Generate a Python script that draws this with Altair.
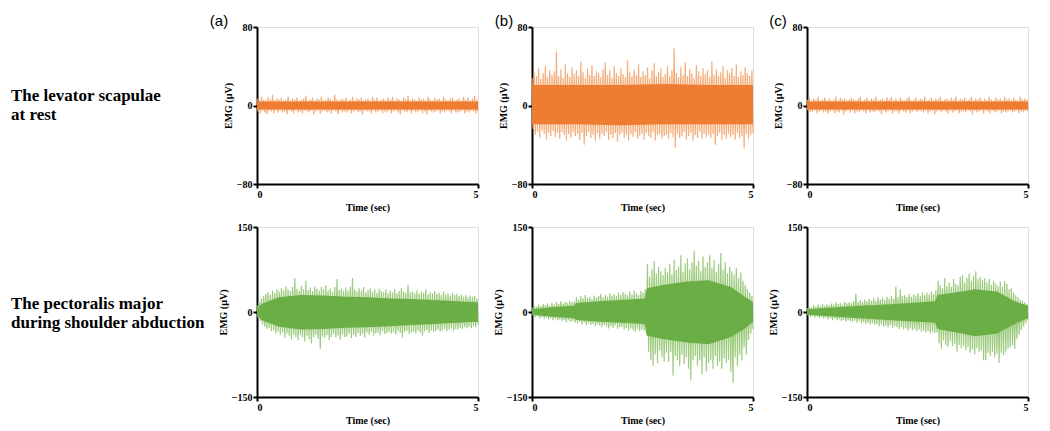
import altair as alt
import pandas as pd

# ---------------- data ----------------
panel_tags = ["(a)", "(b)", "(c)"]
row_labels = ["The levator scapulae\nat rest", "The pectoralis major\nduring shoulder abduction"]
top_ticks = [-80, 0, 80]
bot_ticks = [-150, 0, 150]
time_ticks = [0, 5]

# dense core band: knot times, upper and lower edges
a_top_core_t = [0, 1, 2, 3, 4, 5]
a_top_core_hi = [4, 4, 4, 4, 4, 4]
a_top_core_lo = [-4, -4, -4, -4, -4, -4]
b_top_core_t = [0, 1, 2, 3, 4, 5]
b_top_core_hi = [21, 21, 21, 22, 21, 21]
b_top_core_lo = [-19, -19, -20, -19, -19, -19]
c_top_core_t = [0, 1, 2, 3, 4, 5]
c_top_core_hi = [4, 4, 4, 4, 4, 4]
c_top_core_lo = [-4, -4, -4, -4, -4, -4]

a_bot_core_t = [0, 0.1, 0.5, 1, 1.5, 2, 2.5, 3, 3.5, 4, 4.5, 5]
a_bot_core_hi = [5, 14, 26, 30, 29, 27, 26, 24, 23, 21, 19, 17]
a_bot_core_lo = [-5, -14, -26, -31, -30, -28, -27, -25, -23, -21, -19, -17]
b_bot_core_t = [0, 0.5, 0.95, 1.0, 1.5, 2.0, 2.55, 2.6, 3.0, 3.5, 4.0, 4.5, 4.8, 5.0]
b_bot_core_hi = [5, 9, 11, 16, 19, 21, 24, 42, 48, 54, 56, 44, 28, 17]
b_bot_core_lo = [-5, -9, -11, -14, -17, -19, -21, -42, -48, -54, -57, -44, -30, -17]
c_bot_core_t = [0, 1, 2, 2.9, 2.95, 3.5, 3.8, 4.3, 4.7, 5]
c_bot_core_hi = [5, 10, 14, 19, 30, 36, 40, 36, 19, 11]
c_bot_core_lo = [-5, -10, -15, -19, -30, -38, -43, -38, -21, -11]

# spike peaks (positive / negative), 100 each, evenly over 0-5 s
a_top_up = [7, 5, 9, 6, 5, 8, 6, 11, 5, 7, 6, 8, 5, 6, 9, 5, 7, 6, 8, 5,
            6, 7, 10, 5, 6, 8, 5, 7, 6, 9, 5, 6, 8, 7, 5, 11, 6, 5, 7, 6,
            8, 5, 6, 9, 5, 7, 6, 8, 5, 6, 7, 5, 9, 6, 8, 5, 6, 7, 5, 8,
            6, 9, 5, 7, 6, 5, 8, 6, 10, 5, 7, 6, 5, 8, 6, 7, 5, 9, 6, 5,
            8, 6, 7, 5, 9, 6, 5, 7, 8, 5, 6, 7, 5, 9, 6, 8, 5, 7, 10, 6]
a_top_dn = [-6, -8, -5, -7, -9, -5, -6, -8, -5, -7, -5, -7, -6, -9, -5, -6, -8, -5, -7, -6,
            -8, -5, -6, -7, -5, -9, -6, -5, -8, -6, -5, -7, -6, -8, -5, -6, -9, -5, -7, -6,
            -7, -5, -8, -6, -5, -7, -6, -9, -5, -6, -6, -8, -5, -7, -6, -5, -8, -6, -7, -5,
            -8, -6, -5, -7, -9, -5, -6, -7, -5, -8, -5, -7, -6, -5, -8, -6, -9, -5, -6, -7,
            -6, -5, -8, -6, -7, -5, -6, -8, -5, -7, -7, -6, -5, -8, -6, -7, -5, -6, -8, -6]
b_top_up = [28, 34, 30, 38, 27, 33, 40, 29, 36, 31, 35, 55, 30, 37, 28, 42, 33, 29, 39, 32,
            36, 30, 45, 34, 28, 38, 31, 41, 30, 35, 33, 29, 37, 44, 31, 36, 28, 40, 33, 30,
            38, 32, 29, 46, 34, 30, 37, 31, 42, 29, 35, 31, 39, 28, 36, 43, 30, 34, 38, 29,
            32, 40, 30, 36, 58, 33, 29, 39, 31, 44, 30, 37, 33, 28, 41, 35, 30, 38, 32, 36,
            29, 45, 31, 37, 30, 34, 40, 28, 36, 33, 38, 30, 42, 29, 35, 31, 39, 33, 30, 36]
b_top_dn = [-24, -30, -27, -33, -26, -29, -35, -28, -31, -26, -32, -28, -34, -27, -30, -36, -29, -33, -27, -31,
            -29, -35, -28, -40, -31, -27, -33, -30, -36, -28, -34, -29, -31, -27, -35, -30, -33, -28, -37, -30,
            -28, -33, -30, -36, -29, -32, -27, -34, -31, -29, -35, -28, -31, -33, -27, -36, -30, -29, -34, -31,
            -30, -34, -28, -32, -43, -29, -33, -31, -27, -35, -31, -28, -36, -30, -33, -27, -34, -29, -32, -30,
            -33, -29, -40, -31, -28, -35, -30, -34, -29, -32, -30, -35, -28, -33, -31, -44, -29, -34, -30, -28]
c_top_up = [6, 8, 5, 7, 6, 9, 5, 6, 8, 5, 7, 5, 6, 9, 5, 8, 6, 7, 5, 6,
            8, 6, 5, 7, 9, 5, 6, 8, 5, 7, 6, 9, 5, 6, 7, 5, 8, 6, 9, 5,
            7, 5, 8, 6, 5, 7, 9, 5, 6, 8, 5, 7, 6, 9, 5, 6, 8, 5, 7, 6,
            9, 5, 6, 7, 5, 8, 6, 9, 5, 7, 6, 8, 5, 6, 9, 5, 7, 6, 8, 5,
            7, 5, 9, 6, 5, 8, 6, 7, 5, 9, 6, 7, 5, 8, 6, 5, 9, 6, 7, 6]
c_top_dn = [-5, -7, -6, -5, -8, -6, -5, -7, -6, -8, -6, -5, -8, -6, -7, -5, -9, -6, -5, -7,
            -5, -8, -6, -7, -5, -6, -8, -5, -7, -6, -7, -5, -6, -9, -5, -7, -6, -5, -8, -6,
            -6, -8, -5, -6, -7, -5, -8, -6, -5, -7, -5, -6, -7, -5, -8, -6, -5, -9, -6, -5,
            -7, -5, -6, -8, -5, -7, -6, -5, -8, -6, -6, -7, -5, -6, -9, -5, -7, -6, -5, -8,
            -5, -6, -8, -5, -7, -6, -5, -8, -6, -7, -6, -5, -7, -6, -5, -8, -6, -7, -5, -6]

a_bot_up = [12, 18, 24, 28, 32, 35, 30, 38, 34, 40, 36, 42, 38, 45, 40, 37, 44, 60, 41, 38,
            46, 40, 55, 39, 43, 37, 45, 41, 38, 44, 40, 47, 38, 42, 36, 44, 58, 39, 41, 37,
            43, 38, 45, 60, 40, 36, 42, 38, 44, 35, 39, 42, 36, 40, 34, 41, 37, 35, 40, 33,
            38, 35, 40, 33, 37, 42, 36, 34, 48, 35, 36, 33, 38, 32, 36, 34, 40, 31, 35, 33,
            37, 32, 34, 30, 36, 31, 33, 29, 34, 30, 32, 28, 31, 27, 30, 26, 29, 27, 28, 24]
a_bot_dn = [-10, -16, -22, -26, -30, -28, -34, -32, -38, -35, -40, -36, -45, -38, -42, -48, -40, -44, -50, -41,
            -45, -52, -42, -48, -55, -44, -40, -47, -65, -43, -46, -41, -50, -44, -39, -45, -42, -48, -40, -44,
            -43, -38, -46, -40, -44, -37, -42, -39, -45, -36, -40, -35, -42, -38, -36, -41, -34, -39, -37, -35,
            -38, -36, -40, -34, -37, -45, -35, -33, -39, -36, -35, -38, -33, -36, -42, -34, -32, -37, -33, -35,
            -34, -31, -35, -32, -30, -34, -31, -29, -33, -30, -31, -28, -30, -27, -29, -26, -28, -25, -27, -22]
b_bot_up = [8, 11, 9, 13, 10, 14, 12, 15, 11, 16, 13, 17, 14, 19, 15, 18, 16, 20, 17, 19,
            26, 22, 28, 24, 30, 25, 27, 23, 29, 26, 28, 32, 26, 30, 27, 33, 29, 31, 28, 34,
            30, 35, 32, 29, 36, 31, 38, 33, 30, 37, 34, 40, 85, 62, 75, 90, 68, 80, 72, 65,
            78, 70, 85, 66, 92, 74, 80, 100, 70, 86, 95, 75, 88, 108, 82, 90, 72, 98, 80, 88,
            100, 78, 92, 70, 85, 104, 75, 88, 68, 80, 72, 66, 78, 60, 70, 55, 48, 40, 34, 28]
b_bot_dn = [-6, -9, -8, -11, -9, -12, -10, -13, -11, -14, -12, -15, -13, -16, -14, -18, -15, -17, -16, -19,
            -20, -17, -22, -19, -24, -20, -23, -21, -25, -22, -24, -27, -23, -26, -29, -25, -28, -24, -30, -27,
            -26, -31, -28, -33, -29, -32, -35, -30, -34, -31, -33, -38, -70, -85, -95, -75, -90, -68, -80, -88,
            -72, -88, -70, -112, -78, -85, -95, -75, -92, -80, -100, -120, -85, -78, -95, -85, -110, -80, -105, -90,
            -85, -100, -78, -95, -88, -100, -82, -90, -85, -105, -125, -80, -95, -75, -85, -62, -75, -50, -38, -30]
c_bot_up = [7, 10, 8, 12, 9, 13, 10, 14, 11, 13, 12, 15, 13, 17, 14, 16, 13, 18, 15, 17,
            16, 19, 32, 17, 21, 18, 22, 19, 23, 20, 24, 20, 26, 22, 25, 21, 27, 23, 28, 24,
            45, 26, 40, 28, 30, 26, 32, 27, 31, 29, 33, 28, 35, 30, 34, 31, 36, 32, 38, 55,
            48, 42, 60, 46, 52, 44, 58, 50, 47, 62, 65, 52, 60, 68, 55, 64, 72, 58, 62, 56,
            60, 52, 58, 48, 55, 50, 46, 54, 44, 55, 50, 40, 42, 34, 30, 26, 22, 20, 17, 14]
c_bot_dn = [-6, -9, -7, -10, -8, -11, -9, -12, -10, -13, -11, -14, -12, -15, -13, -16, -14, -17, -15, -16,
            -17, -15, -19, -16, -20, -18, -21, -19, -22, -20, -23, -21, -25, -22, -26, -24, -27, -23, -28, -25,
            -27, -30, -26, -31, -28, -33, -29, -32, -30, -34, -31, -35, -33, -36, -34, -38, -35, -37, -36, -55,
            -65, -50, -58, -62, -52, -60, -56, -70, -58, -64, -60, -68, -62, -72, -66, -75, -64, -70, -68, -85,
            -85, -72, -78, -70, -80, -74, -90, -72, -76, -70, -65, -62, -58, -65, -48, -40, -32, -26, -20, -15]

ORANGE, ORANGE_LIGHT = "#EE7D32", "#F4AE7C"
GREEN, GREEN_LIGHT = "#6BAE45", "#9CCB7E"

SERIF = "Liberation Serif"
W, H_TOP, H_BOT = 221, 157, 170


def axis_style(values, title):
    return alt.Axis(values=values, title=title, grid=False, labelFont=SERIF,
                    labelFontWeight="bold", labelFontSize=10, titleFont=SERIF, titleFontWeight="bold",
                    titleFontSize=10, domainColor="black", domainWidth=2, tickColor="black",
                    tickWidth=2, tickSize=4, labelColor="black", titleColor="black",
                    labelPadding=1, titlePadding=3, format="d")


def panel(core_t, core_hi, core_lo, up, dn, ymax, ticks, color, light, tag, tag_dx, h):
    core = pd.DataFrame({"t": core_t, "hi": core_hi, "lo": core_lo})
    vals = []
    for u, d in zip(up, dn):
        vals += [u, d]
    n = len(vals)
    sig = pd.DataFrame({"t": [k * 5 / (n - 1) for k in range(n)], "v": vals})

    xs = alt.Scale(domain=[0, 5], nice=False)
    ys = alt.Scale(domain=[-ymax, ymax], nice=False)

    line = alt.Chart(sig).mark_line(color=light, strokeWidth=1.2).encode(
        x=alt.X("t:Q", scale=xs, axis=axis_style(time_ticks, "Time (sec)")),
        y=alt.Y("v:Q", scale=ys, axis=axis_style(ticks, "EMG (\u00b5V)")),
    )
    area = alt.Chart(core).mark_area(color=color).encode(
        x=alt.X("t:Q", scale=xs), y=alt.Y("hi:Q", scale=ys), y2="lo:Q"
    )
    layers = [line, area]
    if tag:
        lab = alt.Chart(pd.DataFrame({"tag": [tag]})).mark_text(
            font="Liberation Sans", fontSize=15, align="center", baseline="middle", color="black"
        ).encode(text="tag:N", x=alt.value(tag_dx), y=alt.value(-6))
        layers.append(lab)
    return alt.layer(*layers).properties(width=W, height=h)


def row_label(text, h, y0):
    return alt.Chart(pd.DataFrame({"s": [text]})).mark_text(
        font=SERIF, fontWeight="bold", fontSize=17, lineBreak="\n", lineHeight=19,
        align="left", baseline="alphabetic", color="black"
    ).encode(text="s:N", x=alt.value(0), y=alt.value(y0)).properties(
        width=192, height=h, view=alt.ViewBackground(stroke="transparent")
    )


cells = [
    row_label(row_labels[0], H_TOP, 74),
    panel(a_top_core_t, a_top_core_hi, a_top_core_lo, a_top_up, a_top_dn, 80, top_ticks,
          ORANGE, ORANGE_LIGHT, panel_tags[0], -38, H_TOP),
    panel(b_top_core_t, b_top_core_hi, b_top_core_lo, b_top_up, b_top_dn, 80, top_ticks,
          ORANGE, ORANGE_LIGHT, panel_tags[1], -28, H_TOP),
    panel(c_top_core_t, c_top_core_hi, c_top_core_lo, c_top_up, c_top_dn, 80, top_ticks,
          ORANGE, ORANGE_LIGHT, panel_tags[2], -29, H_TOP),
    row_label(row_labels[1], H_BOT, 82),
    panel(a_bot_core_t, a_bot_core_hi, a_bot_core_lo, a_bot_up, a_bot_dn, 150, bot_ticks,
          GREEN, GREEN_LIGHT, None, 0, H_BOT),
    panel(b_bot_core_t, b_bot_core_hi, b_bot_core_lo, b_bot_up, b_bot_dn, 150, bot_ticks,
          GREEN, GREEN_LIGHT, None, 0, H_BOT),
    panel(c_bot_core_t, c_bot_core_hi, c_bot_core_lo, c_bot_up, c_bot_dn, 150, bot_ticks,
          GREEN, GREEN_LIGHT, None, 0, H_BOT),
]

chart = alt.concat(*cells, columns=4, spacing={"row": 43, "column": 54}, bounds="flush").resolve_scale(
    x="independent", y="independent"
).properties(
    padding={"left": 2, "top": 5, "right": 5, "bottom": 5}
).configure_view(stroke="transparent").configure(background="white")

chart.save("out.html", embed_options={"renderer": "svg", "actions": False})
